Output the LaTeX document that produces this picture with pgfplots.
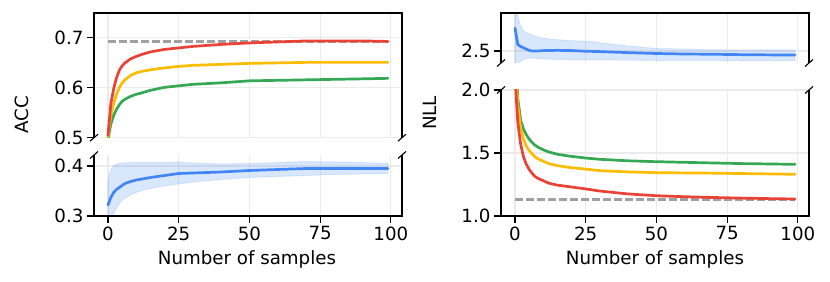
\documentclass[border=0pt]{standalone}
\usepackage{fontspec}
\setmainfont{DejaVu Sans}
\usepackage{pgfplots}
\pgfplotsset{compat=1.18}
\definecolor{cred}{HTML}{EA4335}
\definecolor{cyel}{HTML}{FBBC04}
\definecolor{cgrn}{HTML}{34A853}
\definecolor{cblu}{HTML}{4285F4}
\definecolor{cgray}{HTML}{A0A0A0}
\definecolor{cgrid}{HTML}{EBEBEB}
\newcommand{\fs}{\fontsize{18.3}{22}\selectfont}
\pgfplotsset{
  base/.style={
    scale only axis, width=308bp,
    xmin=-4.95, xmax=103.95,
    axis line style={draw=none},
    grid=major, grid style={cgrid, line width=1.1bp},
    tick style={black, line width=1.1bp},
    major tick length=7bp,
    tick align=outside,
    xtick pos=bottom, ytick pos=left,
    xtick={0,25,50,75,100},
    xticklabels={0,25,50,75,100},
    ticklabel style={font=\fs},
    anchor=south west,
  },
  upper/.style={base, xmajorticks=false},
  lower/.style={base},
  ln/.style={line width=2.7bp, line join=round, line cap=round},
  band/.style={fill=cblu, fill opacity=0.2, draw=cblu, draw opacity=0.15, line width=1bp},
}
\begin{document}
\begin{tikzpicture}
\path[use as bounding box] (0,0) rectangle (830bp,282bp);
% ---------------- left upper
\begin{axis}[upper, name=lu, at={(94bp,144.3bp)}, height=124.7bp,
  ymin=0.5, ymax=0.75, ytick={0.5,0.6,0.7}, yticklabels={0.5,0.6,0.7}]
\addplot[ln, cgray, dash pattern=on 7.7bp off 3.3bp, line cap=butt] coordinates {(0,0.693) (99,0.693)};
\addplot[ln, cgrn] coordinates {(0,0.497) (1,0.527) (2,0.545) (3,0.557) (4,0.566) (5,0.573) (6,0.577) (8,0.583) (10,0.587) (12,0.590) (15,0.595) (20,0.601) (25,0.604) (30,0.607) (40,0.610) (50,0.614) (60,0.615) (70,0.616) (80,0.617) (90,0.618) (99,0.619)};
\addplot[ln, cyel] coordinates {(0,0.502) (1,0.545) (2,0.568) (3,0.587) (4,0.600) (5,0.610) (6,0.616) (8,0.625) (10,0.630) (12,0.633) (15,0.636) (20,0.640) (25,0.643) (30,0.645) (40,0.647) (50,0.649) (60,0.650) (70,0.651) (80,0.651) (90,0.651) (99,0.651)};
\addplot[ln, cred] coordinates {(0,0.505) (1,0.568) (2,0.598) (3,0.620) (4,0.635) (5,0.644) (6,0.650) (8,0.658) (10,0.663) (12,0.667) (15,0.672) (20,0.677) (25,0.680) (30,0.683) (40,0.687) (50,0.690) (60,0.692) (70,0.694) (80,0.694) (90,0.694) (99,0.693)};
\end{axis}
% ---------------- left lower
\begin{axis}[lower, name=ll, at={(94bp,66bp)}, height=61bp,
  ymin=0.3, ymax=0.422, ytick={0.3,0.4}, yticklabels={0.3,0.4}]
\addplot[band] coordinates {(0,0.372) (1,0.392) (2,0.400) (3,0.404) (5,0.406) (8,0.407) (12,0.407) (20,0.407) (25,0.408) (30,0.406) (40,0.404) (50,0.405) (60,0.407) (70,0.409) (80,0.408) (90,0.407) (99,0.405)
 (99,0.385) (90,0.384) (80,0.383) (70,0.381) (60,0.379) (50,0.377) (40,0.373) (30,0.368) (25,0.364) (20,0.360) (15,0.355) (12,0.351) (10,0.347) (8,0.342) (6,0.336) (5,0.331) (4,0.325) (3,0.316) (2,0.305) (1,0.290) (0,0.272)} -- cycle;
\addplot[ln, cblu] coordinates {(0,0.322) (1,0.337) (2,0.347) (3,0.353) (4,0.357) (5,0.361) (6,0.365) (8,0.369) (10,0.372) (12,0.374) (15,0.377) (20,0.381) (25,0.385) (30,0.386) (40,0.388) (50,0.391) (60,0.393) (70,0.395) (80,0.395) (90,0.395) (99,0.395)};
\end{axis}
% ---------------- right upper
\begin{axis}[upper, name=ru, at={(501bp,219bp)}, height=50bp,
  ymin=2.405, ymax=2.8, ytick={2.5}, yticklabels={2.5}]
\addplot[band] coordinates {(0,2.95) (1,2.77) (2,2.70) (3,2.66) (4,2.645) (5,2.635) (8,2.61) (12,2.595) (16,2.587) (20,2.582) (28,2.574) (30,2.565) (40,2.54) (50,2.52) (60,2.515) (70,2.51) (80,2.508) (90,2.508) (99,2.508)
 (99,2.423) (70,2.425) (50,2.425) (30,2.43) (20,2.43) (12,2.435) (8,2.44) (5,2.445) (3,2.43) (2,2.42) (1,2.35) (0,2.20)} -- cycle;
\addplot[ln, cblu] coordinates {(0,2.68) (1,2.55) (2,2.535) (3,2.525) (4,2.515) (5,2.505) (6,2.50) (8,2.50) (10,2.503) (15,2.505) (20,2.503) (25,2.498) (30,2.495) (40,2.487) (50,2.48) (60,2.476) (70,2.474) (80,2.471) (90,2.469) (99,2.468)};
\end{axis}
% ---------------- right lower
\begin{axis}[lower, name=rl, at={(501bp,66bp)}, height=126bp,
  ymin=1.0, ymax=2.0, ytick={1.0,1.5,2.0}, yticklabels={1.0,1.5,2.0}]
\addplot[ln, cgray, dash pattern=on 7.7bp off 3.3bp, line cap=butt] coordinates {(0,1.13) (99,1.13)};
\addplot[ln, cgrn] coordinates {(0,2.35) (1,1.93) (2,1.76) (3,1.69) (4,1.645) (5,1.61) (6,1.585) (7,1.563) (8,1.548) (10,1.525) (12,1.508) (15,1.49) (19,1.476) (25,1.46) (30,1.45) (40,1.438) (50,1.431) (60,1.426) (70,1.421) (80,1.416) (90,1.413) (99,1.41)};
\addplot[ln, cyel] coordinates {(0,2.3) (1,1.88) (2,1.70) (3,1.61) (4,1.555) (5,1.52) (6,1.495) (7,1.47) (8,1.455) (10,1.435) (12,1.415) (15,1.40) (19,1.386) (25,1.372) (30,1.36) (40,1.35) (50,1.344) (60,1.342) (70,1.34) (80,1.337) (90,1.334) (99,1.331)};
\addplot[ln, cred] coordinates {(0,2.10) (1,1.74) (2,1.57) (3,1.47) (4,1.41) (5,1.37) (6,1.34) (7,1.315) (8,1.30) (10,1.28) (12,1.26) (15,1.245) (19,1.233) (25,1.215) (30,1.198) (40,1.175) (50,1.161) (60,1.153) (70,1.147) (80,1.142) (90,1.138) (99,1.135)};
\end{axis}
% ---------------- spines and break marks
\begin{scope}[line width=1.1bp, black]
\foreach \a in {lu,ru}{
  \draw (\a.south west) -- (\a.north west) -- (\a.north east) -- (\a.south east);
  \draw (\a.south west) ++(-4bp,-3.5bp) -- ++(8bp,7bp);
  \draw (\a.south east) ++(-4bp,-3.5bp) -- ++(8bp,7bp);
}
\foreach \a in {ll,rl}{
  \draw (\a.north west) -- (\a.south west) -- (\a.south east) -- (\a.north east);
  \draw (\a.north west) ++(-4bp,-3.5bp) -- ++(8bp,7bp);
  \draw (\a.north east) ++(-4bp,-3.5bp) -- ++(8bp,7bp);
}
\end{scope}
\node[rotate=90, inner sep=0pt, font=\fs] at (22bp,167bp) {ACC};
\node[rotate=90, inner sep=0pt, font=\fs] at (430bp,169bp) {NLL};
\node[inner sep=0pt, font=\fs] at (247bp,22.5bp) {Number of samples};
\node[inner sep=0pt, font=\fs] at (655bp,22.5bp) {Number of samples};
\end{tikzpicture}
\end{document}
